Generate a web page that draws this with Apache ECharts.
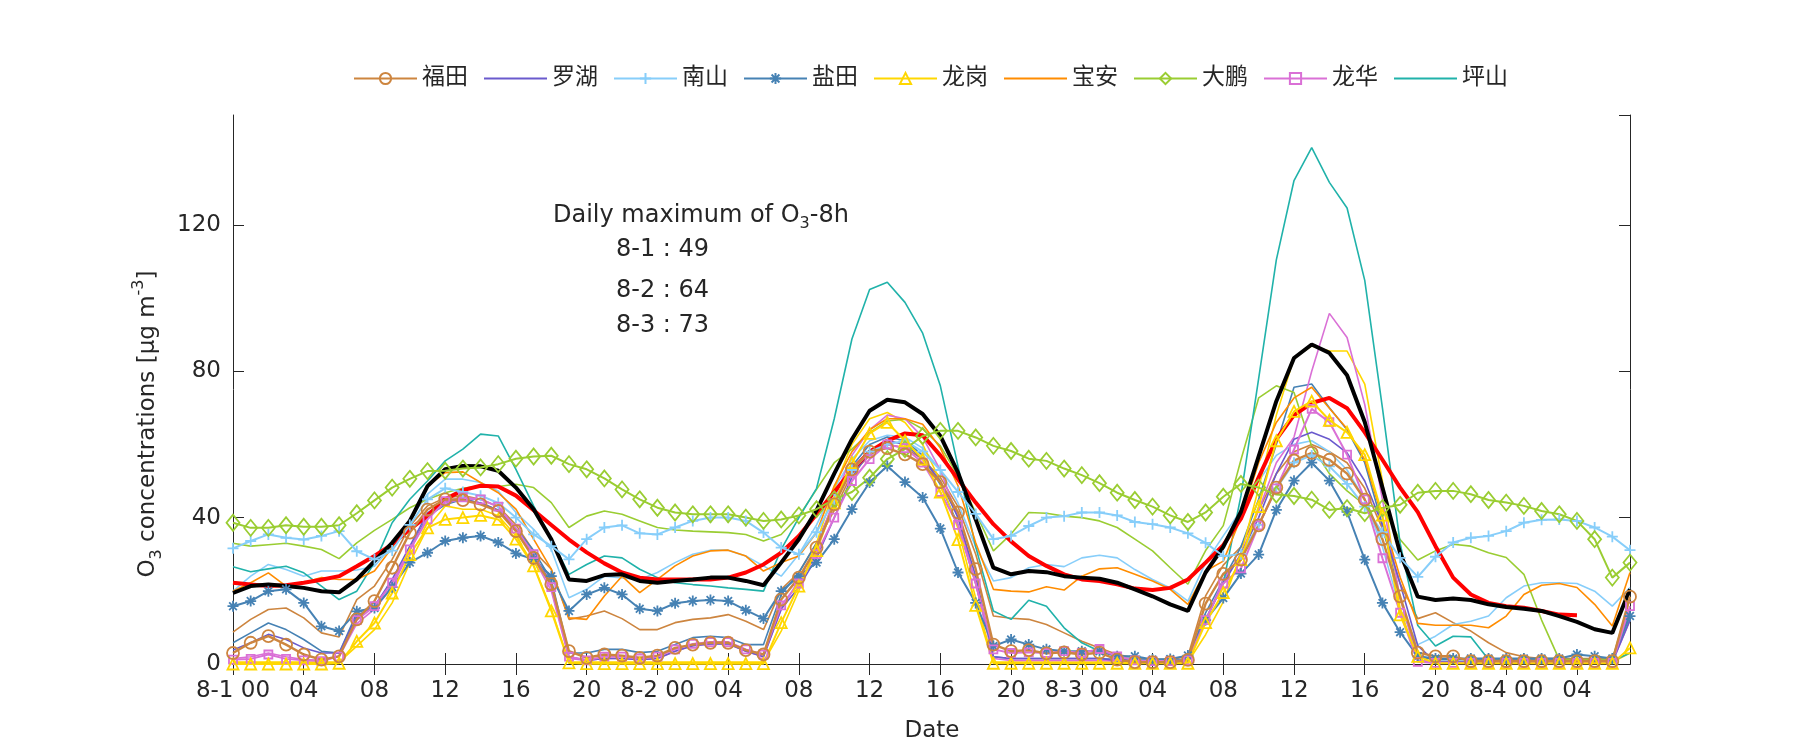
<!DOCTYPE html>
<html><head><meta charset="utf-8">
<script src="https://cdn.jsdelivr.net/npm/echarts@6/dist/echarts.min.js"></script>
<style>html,body{margin:0;padding:0;background:#fff}#c{width:1800px;height:750px}</style>
</head><body><div id="c"></div>
<script>
const days = ['8-1','8-2','8-3','8-4'];
const hourLabels = ['00','01','02','03','04','05','06','07','08','09','10','11','12','13','14','15','16','17','18','19','20','21','22','23'];
const categories = [];
days.forEach(d => hourLabels.forEach((h, i) => categories.push(i === 0 ? d + ' 00' : h)));
categories.length = 80;

const black = [19.4,21.3,21.7,21.3,20.8,19.9,19.6,23.1,28.1,33.1,39.1,48.6,53.2,54.1,54.0,52.8,48.2,42.3,34.1,23.1,22.7,24.3,24.5,22.7,22.2,22.7,23.1,23.6,23.6,22.7,21.5,27.7,34.1,42.0,52.0,61.4,69.2,72.2,71.5,68.3,62.3,52.3,39.5,26.3,24.5,25.4,25.1,24.0,23.6,23.3,22.2,20.4,18.5,16.3,14.5,25.0,32.0,41.6,56.7,71.8,83.6,87.3,85.0,78.9,66.1,48.2,30.3,18.4,17.5,17.9,17.5,16.3,15.6,15.1,14.5,13.1,11.5,9.5,8.5,20.4];
const red = [22.2,21.7,21.3,21.5,22.2,23.0,24.0,26.7,29.5,32.7,36.8,40.5,45.0,47.5,48.7,48.5,46.0,42.0,38.0,34.0,30.5,27.5,25.0,23.6,23.1,23.1,23.1,23.1,23.6,25.0,27.2,30.4,35.0,40.9,47.0,53.0,58.0,61.0,63.0,62.5,57.0,50.5,44.1,38.2,33.5,29.5,26.8,24.5,23.1,22.7,21.8,20.6,20.2,20.8,23.1,27.7,32.5,39.7,51.0,61.4,68.0,71.3,72.7,69.9,63.3,55.8,48.2,41.5,32.2,23.6,19.0,16.7,15.8,15.4,14.5,13.5,13.3];
const pingShan = [26.6,25.2,26.0,26.7,24.9,21.3,17.6,19.9,27.7,38.6,45.0,50.0,55.5,58.7,62.8,62.3,53.2,43.2,34.1,24.5,27.2,29.5,29.0,25.9,23.6,22.2,21.7,21.3,20.8,20.4,19.9,31.3,40.0,48.0,67.0,88.8,102.3,104.3,98.8,90.4,76.0,54.0,32.0,14.5,12.2,17.4,15.8,9.9,5.8,3.5,2.1,1.2,0.8,0.8,1.2,12.0,22.0,46.0,78.0,110.4,132.1,141.1,131.6,124.6,104.8,70.0,33.0,10.5,4.9,7.6,7.4,1.2,0.8,0.8,0.8,0.8,0.8,0.8,0.8,3.0];
const daPeng = [38.6,37.2,37.2,37.9,37.5,37.5,37.9,41.2,44.7,48.2,50.6,52.7,52.8,53.4,53.7,54.6,56.1,56.7,56.9,54.6,53.2,50.7,47.7,45.0,42.7,41.4,40.9,40.9,40.9,40.0,39.1,39.5,40.6,42.3,45.0,47.0,50.9,56.0,58.7,62.3,63.7,63.7,61.9,59.6,58.2,56.1,55.5,53.4,51.6,49.4,46.8,44.8,43.0,40.6,38.8,41.4,45.7,49.2,48.2,46.3,45.9,44.9,42.1,42.6,41.2,42.6,43.5,46.8,47.3,47.3,46.4,44.8,44.1,43.2,41.8,40.9,39.1,34.1,23.6,27.7];
const daPengLine = [33.0,32.2,32.6,33.0,32.2,31.3,28.8,33.1,36.5,39.5,42.7,45.0,46.8,48.0,48.7,48.5,49.1,48.2,44.1,37.3,40.4,41.8,40.9,39.1,37.3,36.6,36.3,36.1,35.9,35.4,33.6,35.4,40.4,47.7,55.0,58.7,63.2,66.4,66.9,64.2,59.6,51.4,41.4,30.9,35.5,41.4,41.2,40.4,40.0,39.1,37.3,34.1,30.9,26.3,21.8,31.0,37.8,55.8,72.7,76.0,74.2,59.5,52.0,47.3,43.5,42.6,34.0,28.4,30.9,32.7,32.2,30.4,29.1,24.5,12.0,1.2,1.2,1.2,1.2,18.0];
const nanShan = [31.6,33.6,35.4,34.5,34.0,35.0,36.3,30.8,28.6,31.0,38.0,45.0,48.0,47.0,46.0,44.0,40.0,35.4,32.2,28.6,34.1,37.3,37.9,35.7,35.4,37.3,39.1,40.0,40.0,39.1,35.9,31.8,30.0,36.0,45.0,53.0,58.0,60.0,61.0,58.0,53.0,47.0,41.0,34.1,35.0,37.7,40.0,40.4,41.4,41.4,40.6,38.8,38.2,37.3,35.7,33.1,29.5,30.0,38.0,48.0,55.0,57.0,54.0,49.2,43.0,36.0,29.0,23.8,29.3,33.2,34.5,35.0,36.3,38.6,39.4,39.5,39.1,37.3,34.8,31.1];
const nanShanLine = [19.9,24.0,27.2,25.8,24.0,25.4,25.4,25.7,26.7,32.2,39.5,46.4,50.5,50.5,49.6,47.3,41.4,36.8,31.3,18.1,20.4,24.0,23.5,23.1,25.0,27.7,30.0,31.1,31.1,29.5,26.8,24.0,30.0,38.0,48.0,56.0,61.0,62.5,62.0,59.0,53.0,44.0,32.0,22.7,23.6,26.3,27.2,26.6,29.0,29.7,29.0,25.8,23.1,20.8,17.2,27.7,35.0,42.0,50.0,57.0,60.0,61.0,58.0,53.0,45.0,32.0,15.0,5.3,7.6,10.8,11.7,13.1,18.1,21.3,22.2,22.2,22.0,19.9,15.8,20.9];
const baoAn = [19.9,22.2,24.9,21.3,22.2,23.6,23.1,23.1,25.4,31.8,38.6,48.6,52.3,52.5,49.6,46.8,42.3,34.1,25.9,12.6,12.2,18.6,24.0,19.5,23.1,26.8,29.5,30.9,31.1,29.5,25.4,27.7,29.5,35.9,48.7,58.0,64.0,67.0,67.0,65.5,59.0,48.7,33.1,20.4,19.9,19.7,21.1,20.2,24.0,26.0,26.3,24.5,22.7,20.4,16.3,25.4,28.1,40.0,55.0,66.0,72.7,75.6,69.9,64.3,55.8,40.0,23.7,11.1,10.6,10.6,10.6,9.9,13.1,19.0,21.5,22.0,20.9,16.3,10.4,25.0];
const yanTian = [15.8,17.2,19.9,20.4,16.7,10.3,9.0,14.4,15.3,21.0,27.7,30.4,33.6,34.5,35.0,33.2,30.2,28.6,24.0,14.5,19.0,20.8,19.0,15.1,14.5,16.6,17.2,17.5,17.2,14.7,12.4,19.9,24.0,27.7,34.1,42.3,49.6,54.1,49.7,45.5,37.0,25.0,16.7,4.9,6.7,5.3,4.0,3.5,3.5,3.5,2.1,2.1,1.2,1.4,2.3,12.0,18.0,24.7,29.9,42.1,50.1,55.0,50.1,41.6,28.5,16.7,8.7,2.1,1.5,1.5,1.5,1.5,1.5,1.5,1.5,1.5,2.6,2.1,1.5,13.1];
const yanTianLine = [5.8,8.5,11.2,9.4,6.7,3.5,3.0,14.0,15.8,22.2,31.3,40.4,43.5,45.0,44.0,42.0,37.0,31.0,23.0,3.0,3.0,4.0,4.0,3.1,3.5,5.3,7.2,7.6,7.2,5.3,5.3,19.0,25.0,33.0,44.0,54.0,60.0,62.0,61.0,57.0,49.0,38.0,22.0,2.0,1.5,1.5,1.5,1.5,1.5,1.5,1.2,1.2,1.2,1.2,1.2,14.0,23.0,32.0,45.0,60.0,75.6,76.5,70.0,64.0,55.0,38.0,18.0,2.0,1.2,1.2,1.2,1.2,1.2,1.2,1.2,1.2,1.2,1.2,1.2,14.0];
const fuTian = [3.0,5.8,7.6,5.3,2.6,1.2,2.1,12.2,17.2,26.3,35.9,42.2,45.0,44.8,43.6,41.8,36.3,29.0,21.8,3.5,1.7,2.6,2.3,1.7,2.3,4.4,5.3,5.8,5.8,3.8,2.6,17.6,23.6,31.8,43.6,53.2,58.0,59.0,57.3,54.6,49.7,41.4,25.9,5.3,3.5,3.8,2.9,3.2,2.6,3.1,1.2,0.5,0.5,0.5,1.1,16.5,24.6,28.5,37.9,48.2,55.6,57.7,55.8,52.0,44.9,34.1,18.5,3.1,2.1,2.1,0.8,0.8,0.8,0.8,0.8,0.8,0.8,0.8,0.8,18.4];
const fuTianLine = [8.7,12.2,14.9,15.3,12.6,8.5,7.4,17.6,21.3,28.6,37.7,43.2,45.4,46.0,45.0,43.0,38.0,30.9,25.9,12.2,13.1,14.5,12.4,9.4,9.4,11.3,12.2,12.6,13.5,11.7,9.4,20.4,25.0,33.1,42.0,52.0,57.0,60.0,59.0,56.0,51.0,43.0,30.0,13.1,12.5,12.2,10.8,8.5,6.2,4.4,2.6,1.7,1.2,1.2,2.1,18.6,27.0,32.0,42.0,52.0,58.0,60.0,58.0,55.0,48.0,37.0,22.0,12.4,14.0,11.3,9.0,5.8,3.1,2.0,1.5,1.5,1.5,1.5,1.5,15.0];
const luoHu = [3.8,5.8,8.1,6.7,4.4,3.0,3.0,13.1,15.8,23.1,32.2,41.3,44.5,45.0,44.0,42.0,37.0,30.0,22.0,2.0,1.0,1.5,1.5,1.2,1.5,3.5,5.0,5.5,5.5,3.5,2.0,15.0,21.0,29.0,40.0,51.0,58.0,61.0,60.0,56.0,50.0,40.0,24.0,2.0,1.5,1.5,1.5,1.5,1.5,1.5,1.0,0.7,0.5,0.5,0.8,12.0,22.0,30.0,40.0,52.0,61.4,63.3,61.4,57.7,50.0,38.0,22.0,5.0,0.5,0.5,0.5,0.5,0.5,0.5,0.5,0.5,0.5,0.5,0.5,12.0];
const longHua = [1.2,1.4,2.6,1.4,1.0,0.8,2.1,12.0,15.8,22.2,31.3,39.5,44.5,45.5,45.0,43.0,37.0,30.0,21.0,2.0,1.0,2.0,2.0,1.5,2.0,4.0,5.5,6.0,6.0,4.0,2.6,16.0,22.0,30.0,40.0,50.0,56.0,60.0,59.0,55.0,47.0,38.0,22.0,4.0,3.0,3.2,3.0,3.5,3.0,4.1,2.1,1.0,0.8,0.8,1.0,12.0,22.0,26.1,37.9,48.0,58.6,69.7,66.1,57.2,45.0,28.9,14.0,0.6,0.3,0.3,0.3,0.3,0.3,0.3,0.3,0.3,0.3,0.3,0.3,15.8];
const longHuaLine = [1.5,2.0,3.0,2.0,1.2,1.0,2.0,11.0,15.0,21.0,31.0,40.0,44.0,45.0,45.0,43.0,37.0,29.0,20.0,1.5,1.0,1.5,1.5,1.2,1.5,3.5,5.0,5.5,5.5,3.5,2.0,15.0,23.0,32.0,45.0,57.0,64.0,68.0,67.0,62.0,53.0,40.0,22.0,1.5,1.0,1.0,1.0,1.0,1.0,1.0,0.8,0.8,0.8,0.8,0.8,12.0,23.0,30.0,42.0,55.0,62.0,80.0,95.8,89.2,70.9,45.0,18.0,1.0,0.5,0.5,0.5,0.5,0.5,0.5,0.5,0.5,0.5,0.5,0.5,12.0];
const longGang = [0.0,0.0,0.0,0.0,0.0,0.0,0.2,6.2,11.2,19.4,29.9,37.2,39.5,40.0,40.6,39.5,34.1,26.8,14.5,0.3,0.1,0.1,0.1,0.1,0.1,0.1,0.1,0.1,0.1,0.1,0.1,11.3,21.3,31.0,44.0,55.0,63.0,66.0,61.0,56.0,47.0,34.0,16.0,0.2,0.2,0.2,0.2,0.2,0.2,0.2,0.2,0.2,0.2,0.2,0.2,11.3,19.5,28.5,43.0,61.0,69.0,71.8,66.6,63.3,57.2,40.7,13.4,2.1,0.2,0.2,0.2,0.2,0.2,0.2,0.2,0.2,0.2,0.2,0.2,4.4];
const longGangLine = [0.5,0.5,0.5,0.5,0.5,0.5,0.5,4.9,9.4,16.7,27.7,37.2,43.2,42.3,42.3,40.5,35.0,27.0,15.0,0.5,0.5,0.5,0.5,0.5,0.5,0.5,0.5,0.5,0.5,0.5,0.5,9.0,20.0,33.0,48.0,60.0,67.0,68.7,66.0,60.0,50.0,37.0,18.0,0.5,0.5,0.5,0.5,0.5,0.5,0.5,0.5,0.5,0.5,0.5,0.5,8.0,17.0,30.0,48.0,68.0,83.6,86.9,85.5,85.5,76.5,50.0,15.0,1.0,0.5,0.5,0.5,0.5,0.5,0.5,0.5,0.5,0.5,0.5,0.5,3.0];

const legendNames = ['福田','罗湖','南山','盐田','龙岗','宝安','大鹏','龙华','坪山'];
const colors = {'福田':'#CD853F','罗湖':'#6A5ACD','南山':'#87CEFA','盐田':'#4682B4','龙岗':'#FFD700','宝安':'#FF8C00','大鹏':'#9ACD32','龙华':'#DA70D6','坪山':'#20B2AA'};

const FONT = 'DejaVu Sans, Noto Sans CJK SC, sans-serif';
const TXT = '#262626';
const PLUS = 'path://M5,0L5,10M0,5L10,5';
const STAR = 'path://M5,0L5,10M0,5L10,5M1.5,1.5L8.5,8.5M8.5,1.5L1.5,8.5';
const CLEAR = 'rgba(0,0,0,0)';

function plain(name, data, color, width) {
  return {type:'line', name, data, symbol:'none', showSymbol:false, smooth:false,
    lineStyle:{color, width: width || 1.6}, itemStyle:{color:CLEAR, borderWidth:0},
    emphasis:{disabled:true}, z:2, clip:false, animation:false};
}
function marked(name, data, color, symbol, size, lw) {
  return {type:'line', name, data, symbol, symbolSize:size, showSymbol:true, showAllSymbol:true,
    lineStyle:{color, width: lw || 2}, itemStyle:{color:CLEAR, borderColor:color, borderWidth:1.8},
    emphasis:{disabled:true}, z:3, clip:false, animation:false};
}

const series = [
  plain('福田-b', fuTianLine, colors['福田']),
  plain('南山-b', nanShanLine, colors['南山']),
  plain('盐田-b', yanTianLine, colors['盐田']),
  plain('龙岗-b', longGangLine, colors['龙岗']),
  plain('大鹏-b', daPengLine, colors['大鹏']),
  plain('龙华-b', longHuaLine, colors['龙华']),
  plain('坪山', pingShan, colors['坪山']),
  plain('宝安', baoAn, colors['宝安']),
  plain('罗湖', luoHu, colors['罗湖']),
  marked('南山', nanShan, colors['南山'], PLUS, 11, 2),
  marked('盐田', yanTian, colors['盐田'], STAR, 11, 2),
  marked('大鹏', daPeng, colors['大鹏'], 'diamond', [13,16], 2),
  marked('龙华', longHua, colors['龙华'], 'rect', 8, 2),
  marked('龙岗', longGang, colors['龙岗'], 'triangle', 11, 2),
  plain('red', red, '#FF0000', 4),
  plain('black', black, '#000000', 4),
  marked('福田', fuTian, colors['福田'], 'circle', 12, 2.4)
];

const chart = echarts.init(document.getElementById('c'), null, {renderer:'canvas'});
const tickShow = (i) => i % 4 === 0;
chart.setOption({
  animation:false,
  backgroundColor:'#fff',
  textStyle:{fontFamily:FONT},
  grid:{left:233, right:170, top:115, bottom:86, containLabel:false},
  legend:{data:legendNames, top:62, left:348, itemWidth:63, itemHeight:14, itemGap:15,
    textStyle:{fontSize:23, color:TXT, fontFamily:FONT}, selectedMode:false},
  xAxis:[
    {type:'category', data:categories, boundaryGap:false, position:'bottom',
     axisLine:{lineStyle:{color:TXT, width:1}},
     axisTick:{inside:true, length:11, interval:(i)=>tickShow(i), lineStyle:{color:TXT}},
     axisLabel:{interval:(i)=>tickShow(i), color:TXT, fontSize:23, margin:16, fontFamily:FONT},
     splitLine:{show:false}},
    {type:'category', data:categories, boundaryGap:false, position:'top',
     axisLine:{lineStyle:{color:TXT, width:1}},
     axisTick:{inside:true, length:11, interval:(i)=>tickShow(i), lineStyle:{color:TXT}},
     axisLabel:{show:false}, splitLine:{show:false}}
  ],
  yAxis:[
    {type:'value', min:0, max:150, interval:40, position:'left',
     axisLine:{show:true, lineStyle:{color:TXT, width:1}},
     axisTick:{show:true, inside:true, length:11, lineStyle:{color:TXT}},
     axisLabel:{color:TXT, fontSize:23, margin:12, showMaxLabel:false, fontFamily:FONT},
     splitLine:{show:false}},
    {type:'value', min:0, max:150, interval:40, position:'right',
     axisLine:{show:true, lineStyle:{color:TXT, width:1}},
     axisTick:{show:true, inside:true, length:11, lineStyle:{color:TXT}},
     axisLabel:{show:false}, splitLine:{show:false}}
  ],
  series: series,
  graphic:[
    {type:'text', left:553, top:204, style:{
      text:'{a|Daily maximum of O}{s|3}{a|-8h}',
      rich:{a:{fontSize:24, fontFamily:FONT, fill:TXT, lineHeight:32}, s:{fontSize:16, fontFamily:FONT, fill:TXT, lineHeight:16, verticalAlign:'bottom'}}}},
    {type:'text', left:616, top:238, style:{text:'8-1 : 49', fontSize:24, fontFamily:FONT, fill:TXT}},
    {type:'text', left:616, top:279, style:{text:'8-2 : 64', fontSize:24, fontFamily:FONT, fill:TXT}},
    {type:'text', left:616, top:314, style:{text:'8-3 : 73', fontSize:24, fontFamily:FONT, fill:TXT}},
    {type:'text', x:148, y:424, rotation:Math.PI/2, style:{
      text:'{a|O}{s|3}{a| concentrations [}{a|μ}{a|g m}{p|-3}{a|]}',
      align:'center', verticalAlign:'middle',
      rich:{a:{fontSize:23, fontFamily:FONT, fill:TXT, lineHeight:34},
            s:{fontSize:16, fontFamily:FONT, fill:TXT, lineHeight:16, verticalAlign:'bottom'},
            p:{fontSize:16, fontFamily:FONT, fill:TXT, lineHeight:16, verticalAlign:'top'}}}},
    {type:'text', x:932, y:731, style:{text:'Date', fontSize:23, fontFamily:FONT, fill:TXT, align:'center', verticalAlign:'middle'}}
  ]
});
</script></body></html>
